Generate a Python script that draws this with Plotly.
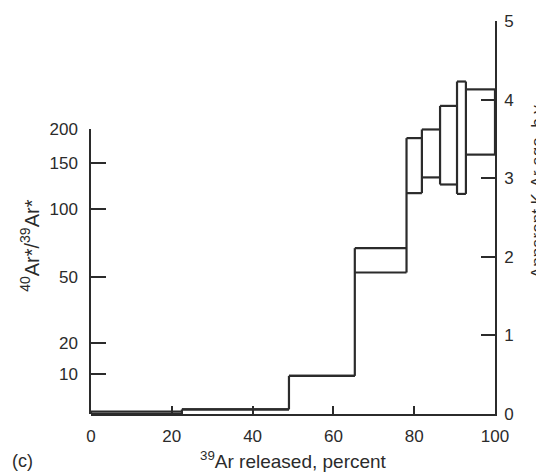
import math
import plotly.graph_objects as go

# ---- data ----
step_edges = [0, 22.5, 49.0, 65.3, 78.1, 81.9, 86.4, 90.6, 92.8, 100]   # % 39Ar released
age_low = [0.0, 0.058, 0.485, 1.80, 2.81, 3.01, 2.92, 2.80, 3.30]       # b.y.
age_high = [0.029, 0.058, 0.485, 2.11, 3.51, 3.62, 3.92, 4.23, 4.13]    # b.y.
x_ticks = [0, 20, 40, 60, 80, 100]
age_ticks = [0, 1, 2, 3, 4, 5]
ratio_ticks = [10, 20, 50, 100, 150, 200]

# conversion ratio -> apparent age (b.y.), used for the left axis scale
J = 0.0324
LAMBDA = 0.5543


def ratio_to_age(r):
    return math.log(1 + J * r) / LAMBDA


AGE_MAX = 5
t200 = ratio_to_age(max(ratio_ticks))

# ---- build the outline of the age spectrum ----
xs, ys = [], []
n = len(age_low)
for i in range(n):
    x0, x1 = step_edges[i], step_edges[i + 1]
    xs += [x0, x1, None, x0, x1, None]
    ys += [age_low[i], age_low[i], None, age_high[i], age_high[i], None]
for k in range(n + 1):
    lo_vals, hi_vals = [], []
    if k - 1 >= 0:
        lo_vals.append(age_low[k - 1]); hi_vals.append(age_high[k - 1])
    if k < n:
        lo_vals.append(age_low[k]); hi_vals.append(age_high[k])
    xs += [step_edges[k], step_edges[k], None]
    ys += [min(lo_vals), max(hi_vals), None]

INK = "#2b2b2b"
FONT = "Liberation Sans, Arial, sans-serif"
FS = 17

fig = go.Figure()
fig.add_trace(go.Scatter(x=xs, y=ys, mode="lines", yaxis="y",
                         line=dict(color=INK, width=2.2), hoverinfo="skip",
                         showlegend=False))
# dummy trace so the left (ratio) axis is drawn
fig.add_trace(go.Scatter(x=[0], y=[0], mode="lines", yaxis="y2",
                         line=dict(width=0), hoverinfo="skip", showlegend=False))

W, H = 536, 476
ml, mr, mt, mb = 91, 41, 12, 62
pw, ph = W - ml - mr, H - mt - mb


def px(x):
    return (x - ml) / pw


def py(y):
    return (H - mb - y) / ph


fig.update_layout(
    width=W, height=H,
    margin=dict(l=ml, r=mr, t=mt, b=mb, pad=0),
    paper_bgcolor="white", plot_bgcolor="rgba(0,0,0,0)",
    font=dict(family=FONT, size=FS, color=INK),
    xaxis=dict(range=[0, 100], tickvals=x_ticks, ticks="inside", ticklen=8,
               tickwidth=1.5, tickcolor=INK, showline=True, linewidth=1.5,
               linecolor=INK, showgrid=False, zeroline=False, anchor="y",
               ticklabelstandoff=6, tickfont=dict(size=FS)),
    yaxis=dict(range=[0, AGE_MAX], domain=[0, 1], side="right", anchor="x",
               tickvals=age_ticks, ticks="inside", ticklen=14, tickwidth=1.5,
               tickcolor=INK, showline=True, linewidth=1.5, linecolor=INK,
               showgrid=False, zeroline=False, ticklabelstandoff=4,
               tickfont=dict(size=FS)),
    yaxis2=dict(range=[0, t200], domain=[0, t200 / AGE_MAX], side="left",
                anchor="x", tickvals=[ratio_to_age(r) for r in ratio_ticks],
                ticktext=[str(r) for r in ratio_ticks], ticks="inside",
                ticklen=15, tickwidth=1.5, tickcolor=INK, showline=True,
                linewidth=1.5, linecolor=INK, showgrid=False, zeroline=False,
                ticklabelstandoff=8, tickfont=dict(size=FS)),
    annotations=[
        dict(text="<sup>39</sup>Ar released, percent", xref="paper", yref="paper",
             x=px(293), y=py(461), xanchor="center", yanchor="middle",
             showarrow=False, font=dict(size=19)),
        dict(text="<sup>40</sup>Ar*/<sup>39</sup>Ar*", xref="paper", yref="paper",
             x=px(30), y=py(242), xanchor="center", yanchor="middle",
             textangle=-90, showarrow=False, font=dict(size=20)),
        dict(text="Apparent K-Ar age, b.y.", xref="paper", yref="paper",
             x=px(537), y=py(185), xanchor="center", yanchor="middle",
             textangle=-90, showarrow=False, font=dict(size=17)),
        dict(text="(c)", xref="paper", yref="paper",
             x=px(22), y=py(462), xanchor="center", yanchor="middle",
             showarrow=False, font=dict(size=18)),
    ],
)

fig.write_html("out.html")
